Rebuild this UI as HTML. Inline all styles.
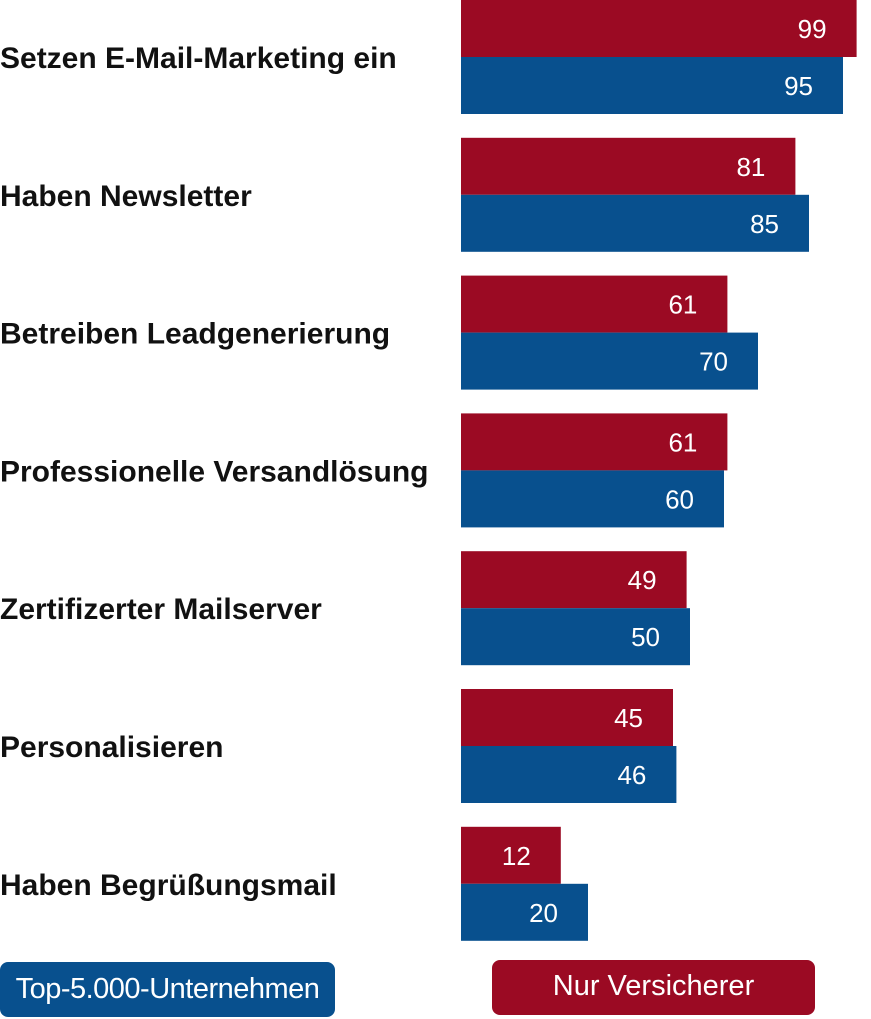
<!DOCTYPE html>
<html><head><meta charset="utf-8"><style>
html,body{margin:0;padding:0;background:#fff;}
body{width:871px;height:1019px;overflow:hidden;position:relative;font-family:"Liberation Sans",sans-serif;}
</style></head><body>
<svg id="chart" width="871" height="1019" style="position:absolute;left:0;top:0"></svg>
<script>
const categories=["Setzen E-Mail-Marketing ein","Haben Newsletter","Betreiben Leadgenerierung","Professionelle Versandlösung","Zertifizerter Mailserver","Personalisieren","Haben Begrüßungsmail"];
const versicherer=[99,81,61,61,49,45,12];
const top5000=[95,85,70,60,50,46,20];
const svg=document.getElementById('chart');
const NS='http://www.w3.org/2000/svg';
const x0=461;
function xEnd(v){return Math.min(871,520+3.4*v);}
function yRow(i){return i*137.8;}
function mk(t,a,p){const e=document.createElementNS(NS,t);for(const k in a)e.setAttribute(k,a[k]);(p||svg).appendChild(e);return e;}
categories.forEach((c,i)=>{
  const y=yRow(i);
  const lab=mk('text',{x:0,y:y+68,'font-size':30,'font-weight':'bold',fill:'#111'});
  lab.textContent=c;
  
  
  [[versicherer[i],'#9b0a23',y],[top5000[i],'#08508e',y+57]].forEach(([v,col,yy],k)=>{
    const xe=xEnd(v);
    const r=mk('rect',{x:x0,y:yy,width:xe-x0,height:57,fill:col});
    
    
    const t=mk('text',{x:xe-30,y:yy+38,'font-size':26,fill:'#fff','text-anchor':'end'});
    t.textContent=v;
    
    
  });
});
</script>
<div style="position:absolute;left:0;top:962px;width:335px;height:55px;background:#08508e;border-radius:8px;color:#fff;font-size:29px;line-height:55px;text-align:center;white-space:nowrap;letter-spacing:-0.5px;">Top-5.000-Unternehmen</div>
<div style="position:absolute;left:492px;top:960px;width:323px;height:55px;background:#9b0a23;border-radius:8px;color:#fff;font-size:29px;line-height:52px;text-align:center;">Nur Versicherer</div>
</body></html>
